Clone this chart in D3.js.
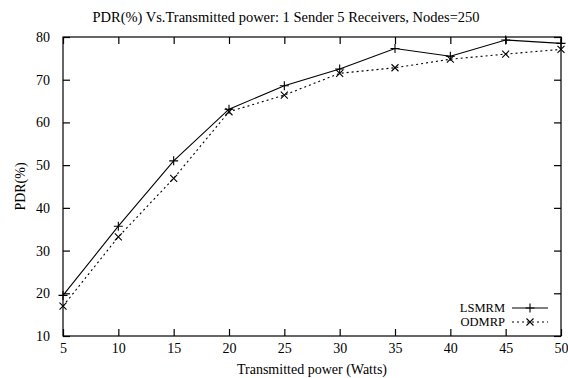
<!DOCTYPE html>
<html>
<head>
<meta charset="utf-8">
<script src="https://cdn.jsdelivr.net/npm/d3@7"></script>
<style>
  body { margin: 0; background: #fff; }
  text { font-family: "Liberation Serif", "Times New Roman", serif; fill: #000; }
</style>
</head>
<body>
<div id="chart"></div>
<script>
// Data
var power = [5, 10, 15, 20, 25, 30, 35, 40, 45, 50];
var lsmrm = [19.5, 35.7, 51.0, 63.1, 68.6, 72.5, 77.3, 75.5, 79.3, 78.5];
var odmrp = [17.0, 33.2, 46.9, 62.5, 66.4, 71.5, 72.8, 74.8, 76.0, 77.1];
var xTicks = [5, 10, 15, 20, 25, 30, 35, 40, 45, 50];
var yTicks = [10, 20, 30, 40, 50, 60, 70, 80];

var W = 568, H = 378;
var margin = { top: 37, right: 7, bottom: 42, left: 63 };
var width = W - margin.left - margin.right;
var height = H - margin.top - margin.bottom;
var serif = "'Liberation Serif', 'Times New Roman', serif";

var root = d3.select("#chart").append("svg")
    .attr("width", W).attr("height", H);

var svg = root.append("g")
    .attr("transform", "translate(" + margin.left + "," + margin.top + ")");

var x = d3.scaleLinear().domain([5, 50]).range([0, width]);
var y = d3.scaleLinear().domain([10, 80]).range([height, 0]);

// Frame
svg.append("rect")
    .attr("width", width).attr("height", height)
    .attr("fill", "none").attr("stroke", "#000").attr("stroke-width", 1.2);

// Axes, ticks pointing inward on all sides
function styleAxis(g) {
    g.attr("font-family", serif).attr("font-size", 14);
    g.select(".domain").remove();
    g.selectAll(".tick line").attr("stroke", "#000").attr("stroke-width", 1.2);
    g.selectAll(".tick text").style("font-size", "14px").style("font-family", serif);
}

svg.append("g")
    .attr("transform", "translate(0," + height + ")")
    .call(d3.axisBottom(x).tickValues(xTicks).tickSize(-7).tickPadding(7))
    .call(styleAxis);

svg.append("g")
    .call(d3.axisTop(x).tickValues(xTicks).tickSize(-7).tickFormat(""))
    .call(styleAxis);

svg.append("g")
    .call(d3.axisLeft(y).tickValues(yTicks).tickSize(-7).tickPadding(13))
    .call(styleAxis);

svg.append("g")
    .attr("transform", "translate(" + width + ",0)")
    .call(d3.axisRight(y).tickValues(yTicks).tickSize(-7).tickFormat(""))
    .call(styleAxis);

// Series
var series = [
    { name: "LSMRM", values: lsmrm, dash: null, marker: "plus" },
    { name: "ODMRP", values: odmrp, dash: "2,3", marker: "cross" }
];

var line = d3.line()
    .x(function (d) { return x(d[0]); })
    .y(function (d) { return y(d[1]); });

function drawMarker(g, type, cx, cy) {
    var p = type === "plus" ? 4.5 : 3.5;
    var path = type === "plus"
        ? "M" + (cx - p) + "," + cy + "H" + (cx + p) + "M" + cx + "," + (cy - p) + "V" + (cy + p)
        : "M" + (cx - p) + "," + (cy - p) + "L" + (cx + p) + "," + (cy + p) +
          "M" + (cx - p) + "," + (cy + p) + "L" + (cx + p) + "," + (cy - p);
    g.append("path").attr("d", path)
        .attr("stroke", "#000").attr("stroke-width", 1.1).attr("fill", "none");
}

series.forEach(function (s) {
    var pts = power.map(function (p, i) { return [p, s.values[i]]; });
    svg.append("path")
        .datum(pts)
        .attr("d", line)
        .attr("fill", "none")
        .attr("stroke", "#000")
        .attr("stroke-width", 1.1)
        .attr("stroke-dasharray", s.dash);
    pts.forEach(function (d) { drawMarker(svg, s.marker, x(d[0]), y(d[1])); });
});

// Legend
var legend = svg.append("g").attr("transform", "translate(" + (width - 49) + "," + (height - 28) + ")");
series.forEach(function (s, i) {
    var ly = i * 14;
    legend.append("text")
        .attr("x", -7).attr("y", ly).attr("dy", "0.35em")
        .attr("text-anchor", "end")
        .style("font-size", "12.5px")
        .text(s.name);
    legend.append("line")
        .attr("x1", 0).attr("x2", 36).attr("y1", ly).attr("y2", ly)
        .attr("stroke", "#000").attr("stroke-width", 1.1)
        .attr("stroke-dasharray", s.dash);
    drawMarker(legend, s.marker, 18, ly);
});

// Titles
root.append("text")
    .attr("x", W / 2 + 2).attr("y", 22)
    .attr("text-anchor", "middle")
    .style("font-size", "14.5px")
    .text("PDR(%) Vs.Transmitted power: 1 Sender 5 Receivers, Nodes=250");

root.append("text")
    .attr("x", margin.left + width / 2).attr("y", 374)
    .attr("text-anchor", "middle")
    .style("font-size", "14px")
    .text("Transmitted power (Watts)");

root.append("text")
    .attr("transform", "translate(25," + (margin.top + height / 2) + ") rotate(-90)")
    .attr("text-anchor", "middle")
    .style("font-size", "14px")
    .text("PDR(%)");
</script>
</body>
</html>
